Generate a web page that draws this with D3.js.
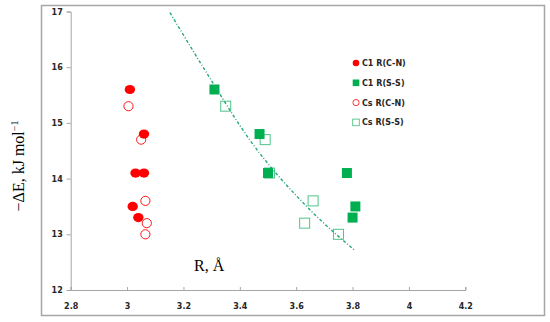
<!DOCTYPE html>
<html lang="en">
<head>
<meta charset="UTF-8">
<title>Delta E vs R</title>
<script src="https://d3js.org/d3.v7.min.js"></script>
<style>
    body { margin: 0; background: #fff; }
    svg { display: block; }
    .tick-label { font-family: "DejaVu Sans", Verdana, sans-serif; font-size: 8px; font-weight: bold; fill: #262626; }
    .legend-label { font-family: "DejaVu Sans", Verdana, sans-serif; font-size: 8px; font-weight: bold; fill: #262626; }
    .axis-title { font-family: "Liberation Serif", "Times New Roman", serif; font-size: 16px; fill: #000; }
</style>
</head>
<body>
<svg id="chart" width="550" height="322"></svg>
<script>
    // series: [R, -dE]
    const c1CN = [[3.01, 15.6], [3.06, 14.8], [3.03, 14.1], [3.06, 14.1], [3.02, 13.5], [3.04, 13.3]];
    const c1SS = [[3.31, 15.6], [3.47, 14.8], [3.5, 14.1], [3.78, 14.1], [3.81, 13.5], [3.8, 13.3]];
    const csCN = [[3.005, 15.3], [3.05, 14.7], [3.065, 13.6], [3.07, 13.2], [3.065, 13.0]];
    const csSS = [[3.35, 15.3], [3.49, 14.7], [3.505, 14.1], [3.66, 13.6], [3.63, 13.2], [3.75, 13.0]];
    // trend line (dash-dot) through the Cs R(S-S) points
    const trend = [[3.152, 16.98], [3.292, 15.82], [3.436, 14.69], [3.649, 13.44], [3.808, 12.71]];

    const xTicks = [2.8, 3, 3.2, 3.4, 3.6, 3.8, 4, 4.2];
    const yTicks = [12, 13, 14, 15, 16, 17];
    const legendNames = ["C1 R(C-N)", "C1 R(S-S)", "Cs R(C-N)", "Cs R(S-S)"];

    const red = "#ff0000", green = "#00b050", lightGreen = "#4fc48a", lineGreen = "#23a77a";
    const axisGray = "#a6a6a6";

    const svg = d3.select("#chart");

    // outer frame
    svg.append("rect")
        .attr("x", 41.5).attr("y", 5.5)
        .attr("width", 503).attr("height", 310)
        .attr("fill", "none").attr("stroke", axisGray).attr("stroke-width", 1.5);

    const x = d3.scaleLinear().domain([2.8, 4.2]).range([70.7, 465.3]);
    const y = d3.scaleLinear().domain([12, 17]).range([290, 11.5]);

    // y axis
    const yAxis = svg.append("g")
        .attr("transform", `translate(${x(2.8)},0)`)
        .call(d3.axisLeft(y).tickValues(yTicks).tickSize(4).tickPadding(4).tickFormat(d3.format("d")));
    yAxis.select(".domain").attr("stroke", axisGray);
    yAxis.selectAll(".tick line").attr("stroke", axisGray);
    yAxis.selectAll(".tick text").attr("class", "tick-label").attr("fill", null);

    // x axis
    const xAxis = svg.append("g")
        .attr("transform", `translate(0,${y(12)})`)
        .call(d3.axisBottom(x).tickValues(xTicks).tickSize(-3).tickPadding(13).tickFormat(d => d3.format("")(+d.toFixed(1))));
    xAxis.select(".domain").attr("stroke", axisGray);
    xAxis.selectAll(".tick line").attr("stroke", axisGray);
    xAxis.selectAll(".tick text").attr("class", "tick-label").attr("fill", null);

    // open markers first, filled on top
    svg.append("g").selectAll("rect").data(csSS).enter().append("rect")
        .attr("x", d => x(d[0]) - 5).attr("y", d => y(d[1]) - 5)
        .attr("width", 10).attr("height", 10)
        .attr("fill", "none").attr("stroke", lightGreen).attr("stroke-width", 1);

    svg.append("g").selectAll("circle").data(csCN).enter().append("circle")
        .attr("cx", d => x(d[0])).attr("cy", d => y(d[1])).attr("r", 4.6)
        .attr("fill", "none").attr("stroke", red).attr("stroke-width", 0.9);

    svg.append("g").selectAll("rect").data(c1SS).enter().append("rect")
        .attr("x", d => x(d[0]) - 5).attr("y", d => y(d[1]) - 5)
        .attr("width", 10).attr("height", 10)
        .attr("fill", green);

    svg.append("g").selectAll("ellipse").data(c1CN).enter().append("ellipse")
        .attr("cx", d => x(d[0])).attr("cy", d => y(d[1])).attr("rx", 5.2).attr("ry", 4.6)
        .attr("fill", red);

    // trend line
    svg.append("path")
        .datum(trend)
        .attr("d", d3.line().x(d => x(d[0])).y(d => y(d[1])).curve(d3.curveMonotoneX))
        .attr("fill", "none").attr("stroke", lineGreen).attr("stroke-width", 1.4)
        .attr("stroke-dasharray", "3,2,1,2");

    // legend
    const legend = svg.append("g").attr("transform", "translate(356,63)");
    legendNames.forEach((name, i) => {
        const g = legend.append("g").attr("transform", `translate(0,${i * 19.8})`);
        if (i === 0) g.append("circle").attr("r", 3.3).attr("fill", red);
        if (i === 1) g.append("rect").attr("x", -3.3).attr("y", -3.3).attr("width", 6.6).attr("height", 6.6).attr("fill", green);
        if (i === 2) g.append("circle").attr("r", 3.1).attr("fill", "none").attr("stroke", red).attr("stroke-width", 0.8);
        if (i === 3) g.append("rect").attr("x", -3.3).attr("y", -3.3).attr("width", 6.6).attr("height", 6.6)
            .attr("fill", "none").attr("stroke", lightGreen).attr("stroke-width", 0.9);
        g.append("text").attr("class", "legend-label").attr("x", 6).attr("y", 3).text(name);
    });

    // axis titles
    svg.append("text").attr("class", "axis-title")
        .attr("x", 194).attr("y", 270.5)
        .text("R, Å");

    const yTitle = svg.append("text").attr("class", "axis-title")
        .attr("transform", "translate(24,166) rotate(-90)")
        .attr("text-anchor", "middle");
    yTitle.append("tspan").text("\u2212\u0394E, kJ mol");
    yTitle.append("tspan").attr("font-size", "10px").attr("dy", -6).text("\u22121");
</script>
</body>
</html>
